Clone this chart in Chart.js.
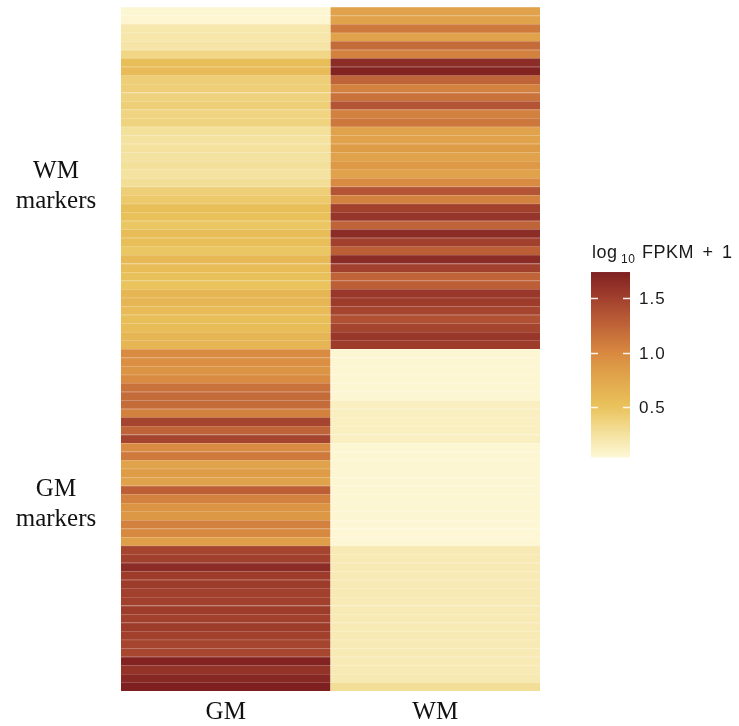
<!DOCTYPE html>
<html>
<head>
<meta charset="utf-8">
<script src="https://cdn.jsdelivr.net/npm/chart.js@4/dist/chart.umd.min.js"></script>
<style>
  body { margin: 0; background: #fff; }
  #wrap { width: 739px; height: 726px; }
</style>
</head>
<body>
<div id="wrap"><canvas id="heat" width="739" height="726"></canvas></div>
<script>
// samples (columns) and marker genes (rows, top to bottom)
const samples = ['GM', 'WM'];
const groupNames = [['WM', 'markers'], ['GM', 'markers']];
// log10 FPKM + 1 per row
const gmValues = [
  0.05, 0.06, 0.20, 0.21, 0.23, 0.35, 0.55, 0.57, 0.40, 0.40,
  0.38, 0.40, 0.36, 0.37, 0.27, 0.25, 0.26, 0.25, 0.27, 0.25,
  0.28, 0.40, 0.45, 0.55, 0.52, 0.47, 0.56, 0.55, 0.47, 0.60,
  0.56, 0.52, 0.50, 0.62, 0.62, 0.57, 0.55, 0.56, 0.62, 0.62,
  0.98, 0.95, 0.92, 0.98, 1.15, 1.20, 1.20, 1.05, 1.47, 1.25,
  1.47, 0.98, 1.10, 0.80, 0.85, 0.80, 1.28, 1.05, 0.92, 0.88,
  1.05, 1.00, 0.82, 1.47, 1.50, 1.65, 1.53, 1.53, 1.50, 1.50,
  1.53, 1.50, 1.53, 1.50, 1.47, 1.45, 1.72, 1.60, 1.68, 1.75
];
const wmValues = [
  0.80, 0.80, 1.10, 0.80, 1.20, 1.05, 1.65, 1.72, 1.25, 1.05,
  1.15, 1.35, 1.05, 1.12, 0.80, 0.80, 0.85, 0.80, 0.87, 0.80,
  0.98, 1.35, 1.05, 1.50, 1.58, 1.25, 1.65, 1.50, 1.28, 1.65,
  1.50, 1.25, 1.28, 1.57, 1.53, 1.47, 1.38, 1.47, 1.57, 1.53,
  0.05, 0.05, 0.05, 0.05, 0.05, 0.05, 0.12, 0.12, 0.12, 0.12,
  0.12, 0.05, 0.05, 0.05, 0.05, 0.05, 0.05, 0.05, 0.05, 0.05,
  0.04, 0.04, 0.04, 0.17, 0.17, 0.17, 0.17, 0.17, 0.17, 0.17,
  0.17, 0.17, 0.17, 0.17, 0.17, 0.17, 0.17, 0.17, 0.18, 0.28
];
const legendTicks = [0.5, 1.0, 1.5];
const legendRange = [0.04, 1.74];

// colour palette (value -> colour)
const stops = [
  [0.00, [255, 251, 223]],
  [0.25, [244, 226, 160]],
  [0.50, [234, 195, 92]],
  [0.75, [226, 168, 76]],
  [1.00, [216, 137, 64]],
  [1.25, [191, 99, 56]],
  [1.50, [162, 64, 46]],
  [1.75, [126, 31, 32]]
];
function mixRgb(v, lighten) {
  let c = stops[stops.length - 1][1];
  for (let k = 0; k < stops.length - 1; k++) {
    const [a, ca] = stops[k], [b, cb] = stops[k + 1];
    if (v <= b) {
      const t = Math.max(0, (v - a) / (b - a));
      c = ca.map((x, j) => x + (cb[j] - x) * t);
      break;
    }
  }
  if (lighten) c = c.map(x => x + (255 - x) * lighten);
  return `rgb(${c.map(Math.round).join(',')})`;
}

const rowDatasets = gmValues.map((g, i) => ({
  label: 'row ' + (i + 1),
  data: [[i, i + 1], [i, i + 1]],
  backgroundColor: [mixRgb(g), mixRgb(wmValues[i])],
  borderColor: [mixRgb(g, 0.3), mixRgb(wmValues[i], 0.3)],
  borderWidth: { top: 1, right: 0, bottom: 0, left: 0 },
  borderSkipped: false,
  grouped: false,
  barPercentage: 1,
  categoryPercentage: 1
}));

// row group labels on the left and colour bar legend on the right
const sidePlugin = {
  id: 'sideAnnotations',
  afterDraw(chart) {
    const ctx = chart.ctx;
    const y = chart.scales.y;
    ctx.save();
    ctx.fillStyle = '#111';
    ctx.font = '25px "Liberation Serif", "DejaVu Serif", serif';
    ctx.textAlign = 'center';
    ctx.textBaseline = 'alphabetic';
    [[20.0, groupNames[0]], [57.2, groupNames[1]]].forEach(([v, lines]) => {
      const base = y.getPixelForValue(v);
      lines.forEach((t, k) => ctx.fillText(t, 56, base + k * 30));
    });

    // colour bar
    const bx = 591, bw = 39, pxPerUnit = 109, y1 = 352.7;
    const vy = v => y1 - (v - 1.0) * pxPerUnit;
    const top = vy(legendRange[1]), bottom = vy(legendRange[0]);
    const grad = ctx.createLinearGradient(0, bottom, 0, top);
    for (let s = 0; s <= 40; s++) {
      const v = legendRange[0] + (legendRange[1] - legendRange[0]) * s / 40;
      grad.addColorStop(s / 40, mixRgb(v));
    }
    ctx.fillStyle = grad;
    ctx.fillRect(bx, top, bw, bottom - top);
    ctx.strokeStyle = 'rgba(255,255,255,0.9)';
    ctx.lineWidth = 1.5;
    ctx.font = '17px "Liberation Sans", Arial, sans-serif';
    ctx.letterSpacing = '1px';
    ctx.textAlign = 'left';
    ctx.textBaseline = 'middle';
    legendTicks.forEach(v => {
      const ty = Math.round(vy(v)) + 0.5;
      ctx.beginPath();
      ctx.moveTo(bx, ty); ctx.lineTo(bx + 7, ty);
      ctx.moveTo(bx + bw - 7, ty); ctx.lineTo(bx + bw, ty);
      ctx.stroke();
      ctx.fillStyle = '#1a1a1a';
      ctx.fillText(v.toFixed(1), 639, ty + 1);
    });
    // title: log10 FPKM + 1
    ctx.textBaseline = 'alphabetic';
    ctx.fillStyle = '#1a1a1a';
    ctx.letterSpacing = '0.5px';
    ctx.wordSpacing = '3px';
    ctx.font = '18px "Liberation Sans", Arial, sans-serif';
    ctx.fillText('log', 592, 258);
    ctx.font = '12px "Liberation Sans", Arial, sans-serif';
    ctx.fillText('10', 621, 263);
    ctx.font = '18px "Liberation Sans", Arial, sans-serif';
    ctx.fillText('FPKM + 1', 642, 258);
    ctx.restore();
  }
};

new Chart(document.getElementById('heat'), {
  type: 'bar',
  data: { labels: samples, datasets: rowDatasets },
  options: {
    responsive: false,
    animation: false,
    layout: { padding: { left: 121, right: 199, top: 7, bottom: 0 } },
    plugins: { legend: { display: false }, tooltip: { enabled: false }, title: { display: false } },
    scales: {
      x: {
        type: 'category',
        grid: { display: false, drawTicks: false, tickLength: 0 },
        border: { display: false },
        afterFit: scale => { scale.height = 35; },
        ticks: {
          color: '#111',
          padding: 9,
          font: { family: '"Liberation Serif", "DejaVu Serif", serif', size: 25, lineHeight: 1 }
        }
      },
      y: {
        type: 'linear',
        min: 0,
        max: gmValues.length,
        reverse: true,
        display: false
      }
    }
  },
  plugins: [sidePlugin]
});
</script>
</body>
</html>
